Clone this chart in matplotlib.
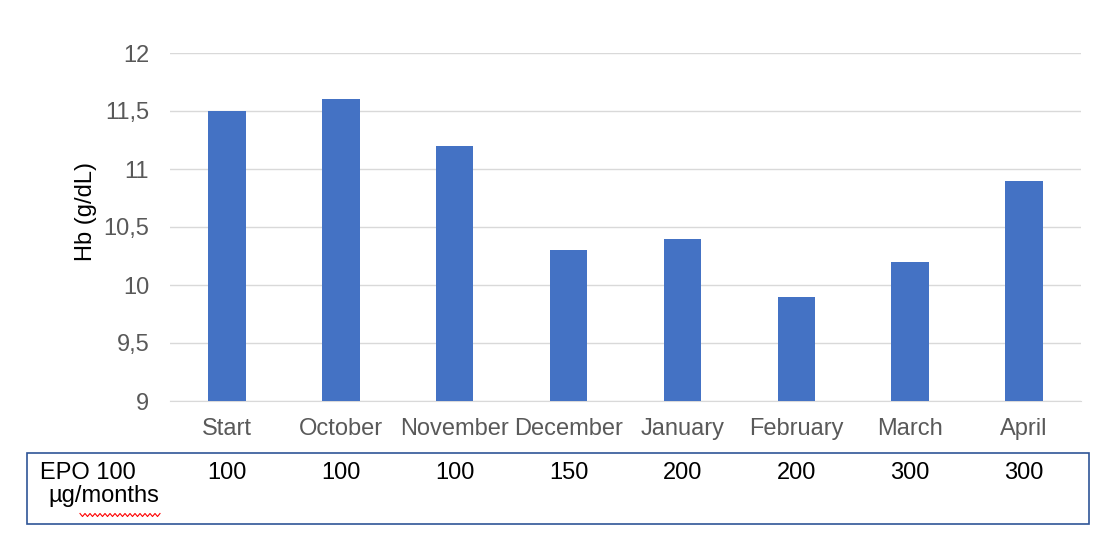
import matplotlib.pyplot as plt
import matplotlib.patches as mpatches
import numpy as np

plt.rcParams['font.family'] = ['Liberation Sans', 'DejaVu Sans']

months = ['Start', 'October', 'November', 'December', 'January', 'February', 'March', 'April']
hb = [11.5, 11.6, 11.2, 10.3, 10.4, 9.9, 10.2, 10.9]
epo = ['100', '100', '100', '150', '200', '200', '300', '300']
yticks = [9, 9.5, 10, 10.5, 11, 11.5, 12]

W, H = 1120, 556
fig = plt.figure(figsize=(W / 100, H / 100), dpi=100)
# axes placed in pixel terms of the original picture
ax = fig.add_axes([170 / W, 1 - 401 / H, (1081 - 170) / W, (401 - 53) / H])

x = np.arange(len(months))
ax.bar(x, hb, width=0.33, color='#4472C4', zorder=3)
ax.set_ylim(9, 12)
ax.set_xlim(-0.5, len(months) - 0.5)
ax.set_yticks(yticks)
ax.set_yticklabels([f'{v:g}'.replace('.', ',') for v in yticks])
ax.set_xticks(x)
ax.set_xticklabels(months)
ax.tick_params(length=0, labelsize=17, colors='#595959')
ax.tick_params(axis='x', pad=12)
ax.tick_params(axis='y', pad=15)
ax.grid(axis='y', color='#d9d9d9', linewidth=1, zorder=0)
for s in ['top', 'right', 'left']:
    ax.spines[s].set_visible(False)
ax.spines['bottom'].set_color('#d9d9d9')
ax.set_ylabel('Hb (g/dL)', fontsize=17, color='black')
ax.yaxis.set_label_coords(-0.08, 0.545)

# table box under the chart
box = mpatches.Rectangle((27 / W, 1 - 524 / H), (1089 - 27) / W, (524 - 453) / H,
                         transform=fig.transFigure, fill=False, edgecolor='#2F5597', linewidth=1.2)
fig.add_artist(box)
fig.text(40 / W, 1 - 473 / H, 'EPO 100', fontsize=17, va='center', ha='left')
fig.text(48 / W, 1 - 496 / H, 'µg/months', fontsize=17, va='center', ha='left')
for i, v in enumerate(epo):
    xf = (170 + (i + 0.5) * (1081 - 170) / len(months)) / W
    fig.text(xf, 1 - 473 / H, v, fontsize=17, va='center', ha='center')

# red spell-check squiggle under "months"
zx = np.linspace(80, 160, 33)
zy = 515 + np.where(np.arange(33) % 2 == 0, -1.5, 1.5)
fig.add_artist(plt.Line2D(zx / W, 1 - zy / H, transform=fig.transFigure, color='red', linewidth=0.8))

fig.savefig('out.png', dpi=100)
